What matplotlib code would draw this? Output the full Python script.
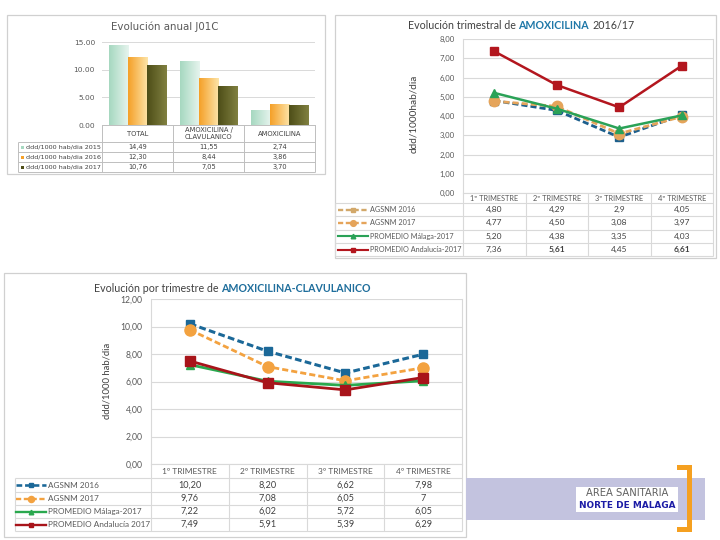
import matplotlib
matplotlib.use("Agg")
import matplotlib.pyplot as plt
import numpy as np
from matplotlib.colors import LinearSegmentedColormap
from matplotlib.patches import Rectangle
from matplotlib.lines import Line2D

# ---------------- data ----------------
bar_categories = ["TOTAL", "AMOXICILINA /\nCLAVULANICO", "AMOXICILINA"]
bar_series = ["ddd/1000 hab/dia 2015", "ddd/1000 hab/dia 2016", "ddd/1000 hab/dia 2017"]
bar_2015 = ["14,49", "11,55", "2,74"]
bar_2016 = ["12,30", "8,44", "3,86"]
bar_2017 = ["10,76", "7,05", "3,70"]

quarters = ["1º TRIMESTRE", "2º TRIMESTRE", "3º TRIMESTRE", "4º TRIMESTRE"]

amox_series = ["AGSNM 2016", "AGSNM 2017", "PROMEDIO Málaga-2017", "PROMEDIO Andalucía-2017"]
amox_agsnm_2016 = ["4,80", "4,29", "2,9", "4,05"]
amox_agsnm_2017 = ["4,77", "4,50", "3,08", "3,97"]
amox_malaga_2017 = ["5,20", "4,38", "3,35", "4,03"]
amox_andalucia_2017 = ["7,36", "5,61", "4,45", "6,61"]

clav_series = ["AGSNM 2016", "AGSNM 2017", "PROMEDIO Málaga-2017", "PROMEDIO Andalucía 2017"]
clav_agsnm_2016 = ["10,20", "8,20", "6,62", "7,98"]
clav_agsnm_2017 = ["9,76", "7,08", "6,05", "7"]
clav_malaga_2017 = ["7,22", "6,02", "5,72", "6,05"]
clav_andalucia_2017 = ["7,49", "5,91", "5,39", "6,29"]


def num(lst):
    return [float(s.replace(",", ".")) for s in lst]


W, H = 720, 540
fig = plt.figure(figsize=(W / 100, H / 100), dpi=100)
fig.patch.set_facecolor("white")
FONT = ["Lato", "DejaVu Sans"]
TXT = "#595959"
VAL = "#404040"
GRID = "#d9d9d9"


def px_axes(x0, y0, x1, y1, **kw):
    return fig.add_axes([x0 / W, 1 - y1 / H, (x1 - x0) / W, (y1 - y0) / H], **kw)


ov = fig.add_axes([0, 0, 1, 1], zorder=0)
ov.set_xlim(0, W)
ov.set_ylim(H, 0)
ov.axis("off")


def hline(x0, x1, y, c=GRID, lw=0.8):
    ov.plot([x0, x1], [y, y], color=c, lw=lw, solid_capstyle="butt")


def vline(x, y0, y1, c=GRID, lw=0.8):
    ov.plot([x, x], [y0, y1], color=c, lw=lw, solid_capstyle="butt")


def box(x0, y0, x1, y1, c="#d0d0d0", lw=0.9):
    ov.add_patch(Rectangle((x0, y0), x1 - x0, y1 - y0, fill=False, ec=c, lw=lw))


renderer = fig.canvas.get_renderer()


def rich_title(parts, xc, y, size, family=FONT):
    texts = []
    for s, col, wt in parts:
        t = ov.text(0, y, s, color=col, fontweight=wt, fontsize=size, ha="left",
                    va="center", family=family)
        texts.append(t)
    widths = [t.get_window_extent(renderer).width for t in texts]
    gap = size * 100 / 72 * 0.26
    total = sum(widths) + gap * (len(texts) - 1)
    x = xc - total / 2
    for t, w in zip(texts, widths):
        t.set_x(x)
        x += w + gap


# ================= Panel 1: bar chart =================
box(7, 15, 325, 174)
ov.text(165, 27, "Evolución anual J01C", fontsize=7.4, color=TXT, ha="center",
        va="center", family="DejaVu Sans")
ax1 = px_axes(102, 42, 315, 125, zorder=2)
ax1.patch.set_alpha(0)
bar_vals = [num(bar_2015), num(bar_2016), num(bar_2017)]
grad_cols = [("#a6d8c0", "#e6f4ee"), ("#f5a028", "#fde4a8"), ("#4e4e18", "#808040")]
bw = 0.27
grad = np.linspace(0, 1, 64).reshape(1, -1)
for j, vals in enumerate(bar_vals):
    xs = np.arange(len(vals)) + (j - 1) * bw
    bars = ax1.bar(xs, vals, width=bw, color=grad_cols[j][0], zorder=2, lw=0)
    cmap = LinearSegmentedColormap.from_list("g%d" % j, list(grad_cols[j]))
    for b in bars:
        im = ax1.imshow(grad, extent=(b.get_x(), b.get_x() + b.get_width(), 0, b.get_height()),
                        cmap=cmap, aspect="auto", zorder=3)
        im.set_clip_path(b)
ax1.set_xlim(-0.5, 2.5)
ax1.set_ylim(0, 15)
ax1.set_yticks([0, 5, 10, 15])
ax1.set_yticklabels(["%.2f" % v for v in [0, 5, 10, 15]], fontsize=5.4, color=TXT,
                    family="DejaVu Sans")
ax1.tick_params(axis="y", length=0, pad=5)
ax1.set_xticks([])
ax1.yaxis.grid(True, color=GRID, lw=0.7)
ax1.set_axisbelow(True)
for s in ["top", "left", "right"]:
    ax1.spines[s].set_visible(False)
ax1.spines["bottom"].set_color("#bfbfbf")
ax1.spines["bottom"].set_linewidth(0.7)

# table panel 1
c_edges = [102, 173, 244, 315]
for x in c_edges:
    vline(x, 125, 172, c="#bfbfbf", lw=0.7)
vline(18, 142, 172, c="#bfbfbf", lw=0.7)
for y in [142, 152, 162, 172]:
    hline(18, 315, y, c="#bfbfbf", lw=0.7)
for i, cat in enumerate(bar_categories):
    xc = (c_edges[i] + c_edges[i + 1]) / 2
    ov.text(xc, 133.5, cat, fontsize=4.9, color=VAL, ha="center", va="center",
            family="DejaVu Sans", linespacing=1.1)
row_strs = [bar_2015, bar_2016, bar_2017]
for r, (name, strs) in enumerate(zip(bar_series, row_strs)):
    yc = 147 + r * 10
    ov.add_patch(Rectangle((20.5, yc - 1.5), 3, 3, color=grad_cols[r][0], lw=0))
    ov.text(25.5, yc, name, fontsize=4.6, color=VAL, ha="left", va="center",
            family="DejaVu Sans")
    for i, s in enumerate(strs):
        xc = (c_edges[i] + c_edges[i + 1]) / 2
        ov.text(xc, yc, s, fontsize=4.8, color=VAL, ha="center", va="center",
                family="DejaVu Sans")


# ================= line chart helper =================
def line_panel(px, ymax, ystep, series_vals, series_names, series_strs, styles, legend_cols,
               ylabel, ylabel_pos, ylabel_size, table_y, legend_x0, swatch, tick_size,
               val_size, head_size, leg_size, bold_cells=()):
    x0, y0, x1, y1 = px
    ax = px_axes(x0, y0, x1, y1, zorder=2)
    ax.patch.set_alpha(0)
    xs = np.arange(len(quarters))
    for vals, st in zip(series_vals, styles):
        ax.plot(xs, vals, **st)
    ax.set_xlim(-0.5, len(quarters) - 0.5)
    ax.set_ylim(0, ymax)
    ticks = np.arange(0, ymax + 0.001, ystep)
    ax.set_yticks(ticks)
    ax.set_yticklabels([("%.2f" % t).replace(".", ",") for t in ticks], fontsize=tick_size,
                       color=TXT, family=FONT)
    ax.tick_params(axis="y", length=0, pad=6)
    ax.set_xticks([])
    ax.yaxis.grid(True, color=GRID, lw=0.8)
    ax.set_axisbelow(True)
    ax.spines["top"].set_visible(False)
    for s in ["left", "right", "bottom"]:
        ax.spines[s].set_color(GRID)
        ax.spines[s].set_linewidth(0.8)
    ov.text(ylabel_pos[0], ylabel_pos[1], ylabel, rotation=90, fontsize=ylabel_size,
            color=VAL, ha="center", va="center", family=FONT)
    # table
    edges = np.linspace(x0, x1, len(quarters) + 1)
    ty = table_y
    for x in edges:
        vline(x, y1, ty[-1])
    vline(legend_x0, ty[1], ty[-1])
    for y in ty[1:]:
        hline(legend_x0, x1, y)
    for i, q in enumerate(quarters):
        ov.text((edges[i] + edges[i + 1]) / 2, (ty[0] + ty[1]) / 2 + 0.5, q, fontsize=head_size,
                color=TXT, ha="center", va="center", family=FONT)
    for r in range(len(series_names)):
        yc = (ty[r + 1] + ty[r + 2]) / 2
        st = styles[r]
        sx0, sx1 = swatch
        ov.add_line(Line2D([legend_x0 + sx0, legend_x0 + sx1], [yc, yc], color=legend_cols[r],
                           lw=st["lw"] * 0.85, ls=st["ls"]))
        ov.add_line(Line2D([legend_x0 + (sx0 + sx1) / 2], [yc], color=legend_cols[r],
                           marker=st["marker"], ms=st["ms"] * 0.55, ls="none"))
        ov.text(legend_x0 + sx1 + 1.5, yc, series_names[r], fontsize=leg_size, color=TXT,
                ha="left", va="center", family=FONT)
        for i, s in enumerate(series_strs[r]):
            wt = "bold" if (r, i) in bold_cells else "normal"
            ov.text((edges[i] + edges[i + 1]) / 2, yc, s, fontsize=val_size, color=VAL,
                    ha="center", va="center", family=FONT, fontweight=wt)
    return ax


# ================= Panel 2: AMOXICILINA =================
box(335, 15, 716, 258)
rich_title([("Evolución trimestral de", "#404040", "normal"),
            ("AMOXICILINA", "#1f78a8", "bold"),
            ("2016/17", "#404040", "normal")], 521, 25.5, 7.7)
amox_styles = [
    dict(color="#1d5f8c", lw=2.0, ls=(0, (2.2, 1.1)), marker="s", ms=5.5),
    dict(color="#e5a45a", lw=2.0, ls=(0, (2.2, 1.1)), marker="o", ms=7.5),
    dict(color="#2aa257", lw=1.8, ls="-", marker="^", ms=6),
    dict(color="#b3161e", lw=1.8, ls="-", marker="s", ms=6),
]
line_panel((463, 39, 713, 193), 8, 1,
           [num(amox_agsnm_2016), num(amox_agsnm_2017), num(amox_malaga_2017), num(amox_andalucia_2017)],
           amox_series, [amox_agsnm_2016, amox_agsnm_2017, amox_malaga_2017, amox_andalucia_2017],
           amox_styles, ["#d2a86a", "#e5a45a", "#2aa257", "#b3161e"],
           "ddd/1000hab/dia", (414, 114), 7.2,
           [193, 203, 216, 229.5, 243, 256], 335, (3, 33), 5.6, 6, 5.3, 5.2,
           bold_cells={(3, 1), (3, 3)})

# ================= Panel 3: AMOXICILINA-CLAVULANICO =================
box(4, 273, 466, 537)
rich_title([("Evolución por trimestre de", "#404040", "normal"),
            ("AMOXICILINA-CLAVULANICO", "#1f6e9c", "bold")], 232, 289, 7.7)
clav_styles = [
    dict(color="#1b6898", lw=2.2, ls=(0, (2.2, 1.1)), marker="s", ms=6),
    dict(color="#f3a240", lw=2.0, ls=(0, (2.2, 1.1)), marker="o", ms=8),
    dict(color="#2aa84e", lw=2.0, ls="-", marker="^", ms=6),
    dict(color="#a8141a", lw=2.0, ls="-", marker="s", ms=6.5),
]
line_panel((151, 299, 462, 464), 12, 2,
           [num(clav_agsnm_2016), num(clav_agsnm_2017), num(clav_malaga_2017), num(clav_andalucia_2017)],
           clav_series, [clav_agsnm_2016, clav_agsnm_2017, clav_malaga_2017, clav_andalucia_2017],
           clav_styles, ["#1b6898", "#f3a240", "#2aa84e", "#a8141a"],
           "ddd/1000 hab/dia", (107, 381), 6.8,
           [464, 478, 492, 505, 518, 531], 15, (1, 31), 6.2, 6.6, 6.0, 5.9)

# ================= logo =================
ov.add_patch(Rectangle((466, 478), 239, 42, color="#c3c3df", lw=0))
ov.add_patch(Rectangle((576, 487), 102, 25, color="white", lw=0))
ov.text(627, 493.5, "AREA SANITARIA", fontsize=7.2, color="#606060", ha="center",
        va="center", family="DejaVu Sans")
ov.text(627, 505.5, "NORTE DE MALAGA", fontsize=6.4, color="#1c1ca6", ha="center",
        va="center", family="DejaVu Sans", fontweight="bold")
ov.add_patch(Rectangle((687, 465), 5, 67, color="#f5a020", lw=0))
ov.add_patch(Rectangle((677, 465), 15, 5, color="#f5a020", lw=0))
ov.add_patch(Rectangle((677, 527), 15, 5, color="#f5a020", lw=0))

fig.savefig("out.png", dpi=100, facecolor="white")
